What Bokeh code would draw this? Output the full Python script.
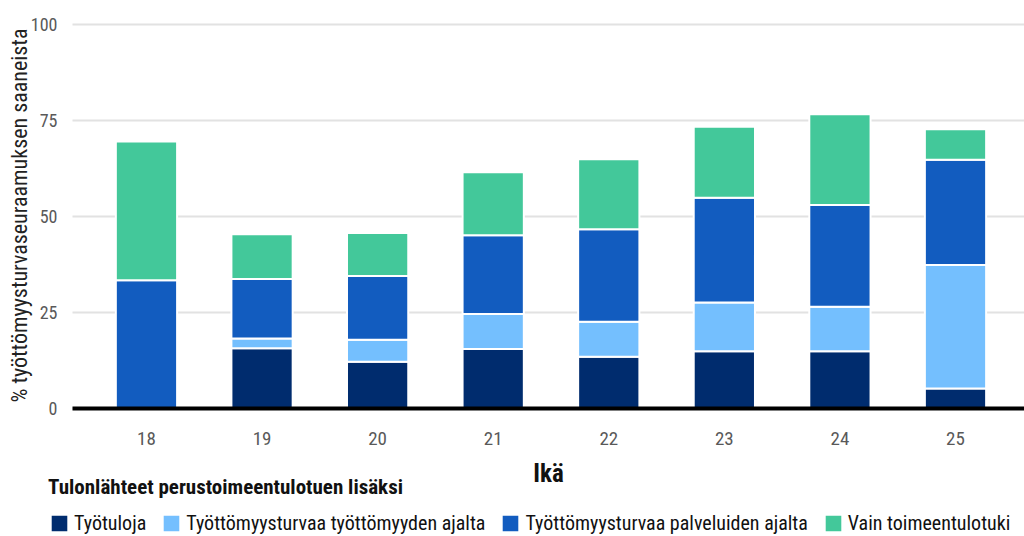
import math
from bokeh.plotting import figure
from bokeh.models import ColumnDataSource, Range1d, Legend, LegendItem, Label
from bokeh.core.properties import value
from bokeh.embed import file_html
from bokeh.resources import INLINE

ages = ["18", "19", "20", "21", "22", "23", "24", "25"]
tyotuloja = [0, 15.7, 12.2, 15.5, 13.5, 14.9, 14.9, 5.2]
tyottomyyden_ajalta = [0, 2.5, 5.7, 9.1, 9.1, 12.7, 11.6, 32.2]
palveluiden_ajalta = [33.4, 15.5, 16.6, 20.5, 24.1, 27.3, 26.5, 27.4]
vain_toimeentulotuki = [36.1, 11.7, 11.2, 16.4, 18.2, 18.5, 23.6, 7.9]
series_names = ["Työtuloja", "Työttömyysturvaa työttömyyden ajalta",
                "Työttömyysturvaa palveluiden ajalta", "Vain toimeentulotuki"]
colors = ["#002C6E", "#74BFFE", "#125CBF", "#43C89A"]
y_ticks = [0, 25, 50, 75, 100]
x_title = "Ikä"
y_title = "% työttömyysturvaseuraamuksen saaneista"
legend_title = "Tulonlähteet perustoimeentulotuen lisäksi"

FONT = "Roboto Condensed, DejaVu Sans Condensed, Roboto"
W, H = 1024, 536
X_START, X_END = -1.263, 7.597     # view range (category index units)
Y_START, Y_END = -33.33, 106.25    # view range (percent units)
GRID_X0 = -0.64                    # where the value grid starts

x = list(range(len(ages)))
source = ColumnDataSource(dict(x=x, s0=tyotuloja, s1=tyottomyyden_ajalta,
                               s2=palveluiden_ajalta, s3=vain_toimeentulotuki))
stackers = ["s0", "s1", "s2", "s3"]

p = figure(width=W, height=H, output_backend="svg", toolbar_location=None,
           x_range=Range1d(X_START, X_END), y_range=Range1d(Y_START, Y_END),
           x_axis_location=None, y_axis_location=None)
p.min_border = 0
p.outline_line_color = None
p.grid.visible = False

# value grid
grid_src = ColumnDataSource(dict(y=y_ticks, x0=[GRID_X0] * len(y_ticks), x1=[X_END] * len(y_ticks),
                                 label=[str(t) for t in y_ticks]))
p.segment(x0="x0", x1="x1", y0="y", y1="y", source=grid_src, line_color="#E2E2E2", line_width=2)

# bars
renderers = p.vbar_stack(stackers, x="x", width=0.53, source=source,
                         color=colors, line_color="white", line_width=2)

# baseline
p.segment(x0=[GRID_X0], x1=[X_END], y0=[0], y1=[0], line_color="black", line_width=4)

# y tick labels
p.text(x="x0", y="y", text="label", source=grid_src, x_offset=-15,
       text_align="right", text_baseline="middle", text_font=value(FONT),
       text_font_size="18px", text_color="#595959")

# x tick labels
xl_src = ColumnDataSource(dict(x=x, y=[0] * len(x), label=ages))
p.text(x="x", y="y", text="label", source=xl_src, y_offset=30,
       text_align="center", text_baseline="middle", text_font=value(FONT),
       text_font_size="19px", text_color="#595959")

# axis titles
p.add_layout(Label(x=548, y=H - 473, x_units="screen", y_units="screen", text=x_title,
                   text_align="center", text_baseline="middle", text_font=FONT,
                   text_font_size="25px", text_font_style="bold", text_color="#111111"))
p.add_layout(Label(x=19, y=H - 215, x_units="screen", y_units="screen", text=y_title,
                   angle=math.pi / 2, text_align="center", text_baseline="middle",
                   text_font=FONT, text_font_size="22px", text_color="#222222"))

legend = Legend(items=[LegendItem(label=n, renderers=[r]) for n, r in zip(series_names, renderers)],
                orientation="horizontal", location=(48, 1))
legend.title = legend_title
legend.title_text_font = FONT
legend.title_text_font_style = "bold"
legend.title_text_font_size = "21px"
legend.title_text_color = "#111111"
legend.title_standoff = 12
legend.label_text_font = FONT
legend.label_text_font_size = "20px"
legend.label_text_color = "#111111"
legend.glyph_width = 22
legend.glyph_height = 22
legend.label_standoff = 4
legend.spacing = 14
legend.padding = 0
legend.margin = 0
legend.border_line_color = None
legend.background_fill_alpha = 0
p.add_layout(legend, "center")

open("out.html", "w").write(file_html(p, INLINE))
